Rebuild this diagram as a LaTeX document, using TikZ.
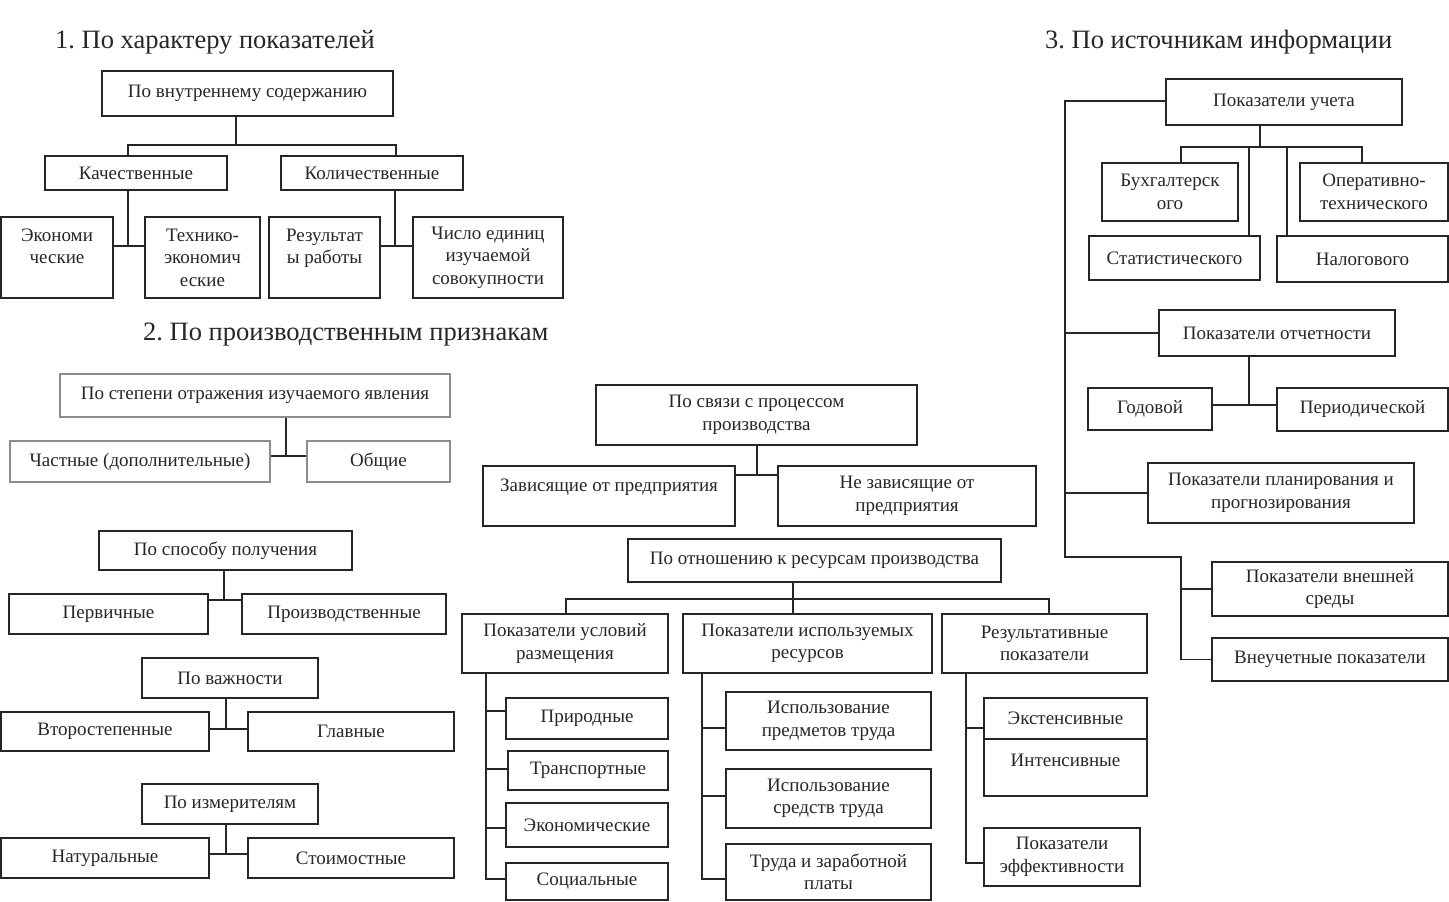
\documentclass[tikz,border=0pt]{standalone}
\usepackage{fontspec}
\setmainfont{Liberation Serif}
\frenchspacing
\begin{document}
\begin{tikzpicture}[x=1pt,y=-1pt,
  box/.style={draw=black!85, line width=1.2pt, inner sep=0pt, align=center, font=\fontsize{19}{22.5}\selectfont, text=black!85},
  lbox/.style={box, draw=black!45},
  ln/.style={draw=black!85, line width=1.2pt},
  ttl/.style={font=\fontsize{26.5}{30}\selectfont, inner sep=0pt, text=black!85}]
\newcommand{\bx}[7][]{\node[box,#1,minimum width={(#5-#3)*1pt},minimum height={(#6-#4)*1pt}] (#2) at ({(#3+#5)/2},{(#4+#6)/2+1}) {#7};}
\useasboundingbox (0,0) rectangle (1449,902);
% ---------- section 1
\node[ttl, anchor=west] (t1) at (55,42) {1. По характеру показателей};
\bx{A}{102}{70}{393}{115}{По внутреннему содержанию}
\bx{kach}{45}{155}{227}{189}{Качественные}
\bx{kol}{281}{155}{463}{189}{Количественные}
\bx{ek}{1}{216}{113}{297}{Экономи\\ческие\\\mbox{}}
\bx{tek}{145}{216}{260}{297}{Технико-\\экономич\\еские}
\bx{res}{269}{216}{380}{297}{Результат\\ы работы\\\mbox{}}
\bx{chis}{413}{216}{563}{297}{Число единиц\\изучаемой\\совокупности}
\coordinate (j1) at (236,145);
\coordinate (k1) at (128,145);
\coordinate (k2) at (396,145);
\coordinate (k3) at (128,246);
\coordinate (k4) at (395,246);
\draw[ln] (j1 |- A.south) -- (j1);
\draw[ln] (k1 |- kach.north) -- (k1) -- (k2) -- (k2 |- kol.north);
\draw[ln] (k3 |- kach.south) -- (k3);
\draw[ln] (k3 -| ek.east) -- (k3 -| tek.west);
\draw[ln] (k4 |- kol.south) -- (k4);
\draw[ln] (k4 -| res.east) -- (k4 -| chis.west);
% ---------- section 2
\node[ttl, anchor=west] (t2) at (143,335) {2. По производственным признакам};
\bx[lbox]{st}{60}{373}{450}{416}{По степени отражения изучаемого явления}
\bx[lbox]{ch}{10}{440}{270}{481}{Частные (дополнительные)}
\bx[lbox]{ob}{307}{440}{450}{481}{Общие}
\bx{sp}{99}{530}{352}{569}{По способу получения}
\bx{perv}{9}{593}{208}{633}{Первичные}
\bx{proiz}{242}{593}{446}{633}{Производственные}
\bx{vazh}{142}{657}{318}{697}{По важности}
\bx{vtor}{1}{711}{209}{750}{Второстепенные}
\bx{glav}{248}{711}{454}{750}{Главные}
\bx{izm}{142}{783}{318}{823}{По измерителям}
\bx{nat}{1}{837}{209}{877}{Натуральные}
\bx{stoim}{248}{837}{454}{877}{Стоимостные}
\coordinate (m1) at (286,456);
\coordinate (m2) at (224,600);
\coordinate (m3) at (226,729);
\coordinate (m4) at (226,854);
\draw[ln] (m1 |- st.south) -- (m1); \draw[ln] (m1 -| ch.east) -- (m1 -| ob.west);
\draw[ln] (m2 |- sp.south) -- (m2); \draw[ln] (m2 -| perv.east) -- (m2 -| proiz.west);
\draw[ln] (m3 |- vazh.south) -- (m3); \draw[ln] (m3 -| vtor.east) -- (m3 -| glav.west);
\draw[ln] (m4 |- izm.south) -- (m4); \draw[ln] (m4 -| nat.east) -- (m4 -| stoim.west);
% ---------- middle
\bx{svyaz}{596}{384}{917}{444}{По связи с процессом\\производства}
\bx{zav}{483}{465}{735}{525}{Зависящие от предприятия\\\mbox{}}
\bx{nezav}{778}{465}{1036}{525}{Не зависящие от\\предприятия}
\bx{otn}{628}{538}{1001}{581}{По отношению к ресурсам производства}
\bx{usl}{462}{613}{668}{672}{Показатели условий\\размещения}
\bx{isp}{683}{613}{932}{672}{Показатели используемых\\ресурсов}
\bx{rez}{942}{613}{1147}{672}{Результативные\\показатели}
\bx{prir}{506}{697}{668}{738}{Природные}
\bx{tr}{508}{750}{668}{789}{Транспортные}
\bx{econ}{506}{802}{668}{846}{Экономические}
\bx{soc}{506}{862}{668}{899}{Социальные}
\bx{ipt}{726}{691}{931}{749}{Использование\\предметов труда}
\bx{ist}{726}{768}{931}{827}{Использование\\средств труда}
\bx{tzp}{726}{843}{931}{899}{Труда и заработной\\платы}
\bx{ext}{984}{697}{1147}{738}{Экстенсивные}
\bx{int}{984}{738}{1147}{795}{Интенсивные\\[-8pt]\mbox{}}
\bx{eff}{984}{827}{1140}{885}{Показатели\\эффективности}
\coordinate (s1) at (757,475);
\draw[ln] (s1 |- svyaz.south) -- (s1); \draw[ln] (s1 -| zav.east) -- (s1 -| nezav.west);
\coordinate (m6) at (793,599);
\coordinate (c1) at (566,599);
\coordinate (c3) at (1049,599);
\draw[ln] (m6 |- otn.south) -- (m6 |- isp.north);
\draw[ln] (c1 |- usl.north) -- (c1) -- (c3) -- (c3 |- rez.north);
\coordinate (v1) at (486,879);
\coordinate (p1) at (486,711);
\coordinate (p2) at (486,769);
\coordinate (p3) at (486,828);
\draw[ln] (v1 |- usl.south) -- (v1) -- (v1 -| soc.west);
\draw[ln] (p1) -- (p1 -| prir.west);
\draw[ln] (p2) -- (p2 -| tr.west);
\draw[ln] (p3) -- (p3 -| econ.west);
\coordinate (v2) at (702,879);
\coordinate (q1) at (702,728);
\coordinate (q2) at (702,796);
\draw[ln] (v2 |- isp.south) -- (v2) -- (v2 -| tzp.west);
\draw[ln] (q1) -- (q1 -| ipt.west);
\draw[ln] (q2) -- (q2 -| ist.west);
\coordinate (v3) at (966,863);
\coordinate (w1) at (966,728);
\draw[ln] (v3 |- rez.south) -- (v3) -- (v3 -| eff.west);
\draw[ln] (w1) -- (w1 -| ext.west);
% ---------- section 3
\node[ttl, anchor=west] (t3) at (1045,42) {3. По источникам информации};
\bx{uch}{1166}{78}{1402}{124}{Показатели учета}
\bx{bux}{1102}{162}{1238}{220}{Бухгалтерск\\ого}
\bx{oper}{1300}{162}{1448}{220}{Оперативно-\\технического}
\bx{stat}{1089}{235}{1260}{279}{Статистического}
\bx{nal}{1277}{235}{1448}{281}{Налогового}
\bx{otch}{1159}{309}{1395}{355}{Показатели отчетности}
\bx{god}{1088}{387}{1212}{429}{Годовой}
\bx{per}{1277}{387}{1448}{430}{Периодической}
\bx{plan}{1148}{462}{1414}{522}{Показатели планирования и\\прогнозирования}
\bx{vnesh}{1212}{561}{1448}{615}{Показатели внешней\\среды}
\bx{vneuch}{1212}{637}{1448}{680}{Внеучетные показатели}
\coordinate (r0) at (1065,101);
\coordinate (r1) at (1065,557);
\coordinate (r2) at (1181,557);
\draw[ln] (uch.west |- r0) -- (r0) -- (r1) -- (r2) -- (r2 |- vneuch.west) -- (vneuch.west);
\draw[ln] (r2 |- vnesh.west) -- (vnesh.west);
\draw[ln] (r0 |- otch.west) -- (otch.west);
\draw[ln] (r0 |- plan.west) -- (plan.west);
\coordinate (u1) at (1260,147);
\coordinate (ua) at (1181,147);
\coordinate (ub) at (1362,147);
\coordinate (uc) at (1249,147);
\coordinate (ud) at (1287,147);
\draw[ln] (u1 |- uch.south) -- (u1);
\draw[ln] (ua |- bux.north) -- (ua) -- (ub) -- (ub |- oper.north);
\draw[ln] (uc) -- (uc |- stat.north);
\draw[ln] (ud) -- (ud |- nal.north);
\coordinate (o1) at (1249,405);
\draw[ln] (o1 |- otch.south) -- (o1);
\draw[ln] (o1 -| god.east) -- (o1 -| per.west);
\end{tikzpicture}
\end{document}
